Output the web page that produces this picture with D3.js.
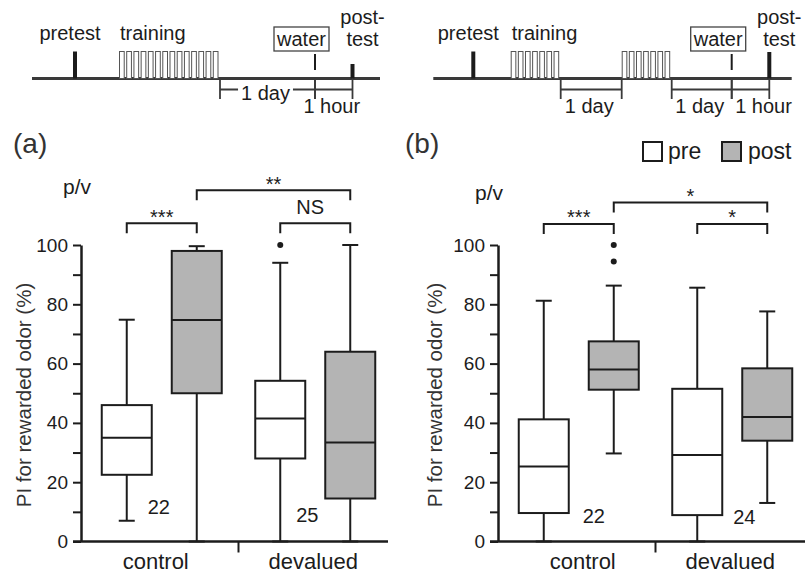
<!DOCTYPE html>
<html>
<head>
<meta charset="utf-8">
<script src="https://cdn.jsdelivr.net/npm/d3@7"></script>
<style>
body { margin: 0; background: #fff; }
svg { display: block; font-family: 'Liberation Sans', Arial, sans-serif; }
</style>
</head>
<body>
<script>
// ---- data ----
let groups = ['control', 'devalued'];
let phases = ['pre', 'post'];
let yTickValues = [0, 10, 20, 30, 40, 50, 60, 70, 80, 90, 100];
let yTickLabels = [0, 20, 40, 60, 80, 100];

// box stats: [min, q1, median, q3, max], order control-pre, control-post, devalued-pre, devalued-post
let statsA = [
    [7, 22.5, 35, 46, 74.8],
    [0, 50, 74.7, 98, 99.6],
    [0, 28, 41.5, 54.2, 94],
    [0, 14.5, 33.4, 64, 100]
];
let outliersA = [[], [], [100], []];
let countsA = [22, 25];

let statsB = [
    [0, 9.6, 25.3, 41.2, 81.2],
    [29.7, 51.2, 58, 67.5, 86.3],
    [0, 8.9, 29.2, 51.5, 85.6],
    [13, 34, 42, 58.4, 77.6]
];
let outliersB = [[], [94.4, 100], [], []];
let countsB = [22, 24];

// significance brackets between boxes (index into stats), level in y units
let sigA = [
    {from: 0, to: 1, level: 107.3, label: '***'},
    {from: 1, to: 3, level: 118.5, label: '**'},
    {from: 2, to: 3, level: 107.3, label: 'NS'}
];
let sigB = [
    {from: 0, to: 1, level: 107.1, label: '***'},
    {from: 1, to: 3, level: 114.3, label: '*'},
    {from: 2, to: 3, level: 107.1, label: '*'}
];

// schematic timelines, positions in units along the line
let timelineA = {
    extent: [0, 348],
    pretest: 43,
    blocks: [{start: 87, end: 188, trials: 14}],
    water: 283,
    posttest: 320.5,
    postTop: 64,
    spans: [{from: 188, to: 283, label: '1 day', inline: true}, {from: 283, to: 320.5, label: '1 hour'}]
};
let timelineB = {
    extent: [0, 358.4],
    pretest: 40,
    blocks: [{start: 77.4, end: 127.4, trials: 7}, {start: 188.4, end: 238.4, trials: 7}],
    water: 298.4,
    posttest: 336,
    postTop: 52,
    spans: [{from: 127.4, to: 188.4, label: '1 day'}, {from: 238.4, to: 298.4, label: '1 day'},
        {from: 298.4, to: 336, label: '1 hour', dx: 15}]
};

// ---- drawing ----
let width = 805, height = 577;
let ink = '#1c1c1c', gray = '#b4b4b4', lineGray = '#3a3a3a';

let svg = d3.select('body').append('svg')
    .attr('width', width)
    .attr('height', height);

let y = d3.scaleLinear().domain([0, 100]).range([541.5, 245]);

function drawTimeline(tl, range) {
    let t = d3.scaleLinear().domain(tl.extent).range(range);
    let g = svg.append('g').attr('class', 'timeline');
    let base = 78.5;

    g.append('line')
        .attr('x1', t(tl.extent[0])).attr('x2', t(tl.extent[1]))
        .attr('y1', base).attr('y2', base)
        .style('stroke', lineGray).style('stroke-width', 3);

    // training trials
    tl.blocks.forEach(b => {
        let step = (t(b.end) - t(b.start)) / b.trials;
        g.selectAll(null).data(d3.range(b.trials)).enter().append('rect')
            .attr('x', i => t(b.start) + i * step + 0.5)
            .attr('y', 51.5)
            .attr('width', step - 2.5)
            .attr('height', base - 51.5)
            .style('fill', '#fff')
            .style('stroke', '#555')
            .style('stroke-width', 1);
    });
    g.append('text').attr('x', t(tl.blocks[0].start) + 1).attr('y', 40)
        .style('font-size', '20px').style('fill', ink).text('training');

    // pretest / posttest
    g.append('line').attr('x1', t(tl.pretest)).attr('x2', t(tl.pretest))
        .attr('y1', 51.5).attr('y2', base)
        .style('stroke', ink).style('stroke-width', 4);
    g.append('text').attr('x', t(tl.pretest) - 5).attr('y', 40)
        .attr('text-anchor', 'middle')
        .style('font-size', '20px').style('fill', ink).text('pretest');

    g.append('line').attr('x1', t(tl.posttest)).attr('x2', t(tl.posttest))
        .attr('y1', tl.postTop).attr('y2', base)
        .style('stroke', ink).style('stroke-width', 4);
    g.append('text').attr('x', t(tl.posttest) + 10).attr('y', 24)
        .attr('text-anchor', 'middle')
        .style('font-size', '20px').style('fill', ink).text('post-');
    g.append('text').attr('x', t(tl.posttest) + 10).attr('y', 46)
        .attr('text-anchor', 'middle')
        .style('font-size', '20px').style('fill', ink).text('test');

    // water
    g.append('line').attr('x1', t(tl.water)).attr('x2', t(tl.water))
        .attr('y1', 54).attr('y2', 70)
        .style('stroke', ink).style('stroke-width', 2);
    g.append('rect').attr('x', t(tl.water) - 41).attr('y', 27)
        .attr('width', 55).attr('height', 24)
        .style('fill', '#fff').style('stroke', '#444').style('stroke-width', 1.3);
    g.append('text').attr('x', t(tl.water) - 13.5).attr('y', 46)
        .attr('text-anchor', 'middle')
        .style('font-size', '20px').style('fill', ink).text('water');

    // spans below the line
    tl.spans.forEach(s => {
        let x1 = t(s.from), x2 = t(s.to), yb = 89.5;
        g.append('line').attr('x1', x1).attr('x2', x2).attr('y1', yb).attr('y2', yb)
            .style('stroke', lineGray).style('stroke-width', 1.8);
        [x1, x2].forEach(x => {
            g.append('line').attr('x1', x).attr('x2', x).attr('y1', base).attr('y2', 99)
                .style('stroke', lineGray).style('stroke-width', 1.8);
        });
        let lbl = g.append('text')
            .attr('x', (x1 + x2) / 2 - 2 + (s.dx || 0))
            .attr('y', s.inline ? 100 : 113)
            .attr('text-anchor', 'middle')
            .style('font-size', '20px').style('fill', ink).text(s.label);
        if (s.inline) {
            let bb = lbl.node().getBBox();
            g.insert('rect', 'text:last-of-type')
                .attr('x', bb.x - 3).attr('y', bb.y).attr('width', bb.width + 6).attr('height', bb.height)
                .style('fill', '#fff');
        }
    });
}

function drawPanel(opts) {
    let g = svg.append('g').attr('transform', 'translate(' + opts.left + ',0)');

    let x = d3.scaleBand().domain(groups).range([4, 311]).padding(0);
    let xp = d3.scalePoint().domain(phases).range([-35, 35]);
    let boxW = 50;

    let boxes = [];
    groups.forEach((gr, gi) => {
        phases.forEach((ph, pi) => {
            let i = gi * phases.length + pi;
            boxes.push({
                group: gr, phase: ph,
                cx: x(gr) + x.bandwidth() / 2 + xp(ph),
                s: opts.stats[i],
                out: opts.outliers[i]
            });
        });
    });

    // y axis
    let yAxis = d3.axisLeft(y).tickValues(yTickValues).tickSize(8).tickPadding(5)
        .tickSizeOuter(0)
        .tickFormat(d => yTickLabels.indexOf(d) >= 0 ? d : '');
    let ag = g.append('g').call(yAxis);
    ag.select('.domain').style('stroke', ink).style('stroke-width', 2.5);
    ag.selectAll('.tick line').style('stroke', ink).style('stroke-width', 2);
    ag.selectAll('.tick text').style('font-size', '19px').style('fill', ink)
        .style('font-family', "'Liberation Sans', Arial, sans-serif");

    // x axis line + divider
    g.append('line').attr('x1', -8).attr('x2', 307)
        .attr('y1', y(0)).attr('y2', y(0))
        .style('stroke', ink).style('stroke-width', 2.5);
    g.append('line').attr('x1', x(groups[1])).attr('x2', x(groups[1]))
        .attr('y1', y(0)).attr('y2', y(0) + 11)
        .style('stroke', ink).style('stroke-width', 2);
    g.selectAll('.xlabel').data(groups).enter().append('text')
        .attr('class', 'xlabel')
        .attr('x', (d, i) => x(d) + x.bandwidth() / 2 + opts.xLabelDx[i])
        .attr('y', y(0) + 27)
        .attr('text-anchor', 'middle')
        .style('font-size', '22px').style('fill', ink)
        .text(d => d);

    // whiskers
    let bg = g.selectAll('.box').data(boxes).enter().append('g').attr('class', 'box');
    bg.append('line')
        .attr('x1', d => d.cx).attr('x2', d => d.cx)
        .attr('y1', d => y(d.s[0])).attr('y2', d => y(d.s[1]))
        .style('stroke', ink).style('stroke-width', 2);
    bg.append('line')
        .attr('x1', d => d.cx).attr('x2', d => d.cx)
        .attr('y1', d => y(d.s[3])).attr('y2', d => y(d.s[4]))
        .style('stroke', ink).style('stroke-width', 2);
    [0, 4].forEach(k => {
        bg.append('line')
            .attr('x1', d => d.cx - 8).attr('x2', d => d.cx + 8)
            .attr('y1', d => y(d.s[k])).attr('y2', d => y(d.s[k]))
            .style('stroke', ink).style('stroke-width', 2);
    });
    bg.append('rect')
        .attr('x', d => d.cx - boxW / 2)
        .attr('y', d => y(d.s[3]))
        .attr('width', boxW)
        .attr('height', d => y(d.s[1]) - y(d.s[3]))
        .style('fill', d => d.phase === 'pre' ? '#fff' : gray)
        .style('stroke', ink).style('stroke-width', 2);
    bg.append('line')
        .attr('x1', d => d.cx - boxW / 2).attr('x2', d => d.cx + boxW / 2)
        .attr('y1', d => y(d.s[2])).attr('y2', d => y(d.s[2]))
        .style('stroke', ink).style('stroke-width', 2);
    bg.selectAll('.outlier').data(d => d.out.map(v => ({cx: d.cx, v: v}))).enter().append('circle')
        .attr('class', 'outlier')
        .attr('cx', d => d.cx).attr('cy', d => y(d.v)).attr('r', 3)
        .style('fill', ink);

    // n labels, right of the pre box
    g.selectAll('.nlabel').data(opts.counts).enter().append('text')
        .attr('class', 'nlabel')
        .attr('x', (d, i) => boxes[i * 2].cx + opts.nDx[i])
        .attr('y', (d, i) => opts.nY[i])
        .attr('text-anchor', 'middle')
        .style('font-size', '20px').style('fill', ink)
        .text(d => d);

    // significance brackets
    let sg = g.selectAll('.sig').data(opts.sig).enter().append('g').attr('class', 'sig');
    sg.append('path')
        .attr('d', d => {
            let x1 = boxes[d.from].cx, x2 = boxes[d.to].cx, yy = y(d.level);
            return 'M' + x1 + ',' + (yy + 10) + 'V' + yy + 'H' + x2 + 'V' + (yy + 10);
        })
        .style('fill', 'none').style('stroke', ink).style('stroke-width', 2);
    sg.append('text')
        .attr('x', d => (boxes[d.from].cx + boxes[d.to].cx) / 2 + (d.label === 'NS' ? -5 : 0))
        .attr('y', d => y(d.level) - (d.label === 'NS' ? 9 : -0.5))
        .attr('text-anchor', 'middle')
        .style('font-size', '20px').style('fill', ink)
        .text(d => d.label);

    // panel letter, y-axis title, p/v
    g.append('text').attr('x', opts.letterX).attr('y', 153)
        .style('font-size', '28px').style('fill', '#333').text(opts.letter);
    g.append('text').attr('x', opts.pvX).attr('y', opts.pvY)
        .style('font-size', '21px').style('fill', ink).text('p/v');
    g.append('text')
        .attr('transform', 'translate(' + opts.titleX + ',' + 395 + ') rotate(-90)')
        .attr('text-anchor', 'middle')
        .style('font-size', '20.5px').style('fill', '#333')
        .text('PI for rewarded odor (%)');
}

drawTimeline(timelineA, [32, 380]);
drawTimeline(timelineB, [433.3, 791.7]);

drawPanel({
    left: 81, letter: '(a)', letterX: -68, pvX: -18, pvY: 194, titleX: -50,
    stats: statsA, outliers: outliersA, counts: countsA, sig: sigA,
    nDx: [32, 27], nY: [514, 522], xLabelDx: [-6, -2]
});
drawPanel({
    left: 498, letter: '(b)', letterX: -93, pvX: -23, pvY: 200, titleX: -56,
    stats: statsB, outliers: outliersB, counts: countsB, sig: sigB,
    nDx: [50, 47], nY: [523, 524], xLabelDx: [4, -2]
});

// legend
let legend = svg.append('g').attr('class', 'legend');
legend.selectAll('rect').data(phases).enter().append('rect')
    .attr('x', (d, i) => 643 + i * 79).attr('y', 142)
    .attr('width', 19).attr('height', 19)
    .style('fill', d => d === 'pre' ? '#fff' : gray)
    .style('stroke', ink).style('stroke-width', 2);
legend.selectAll('text').data(phases).enter().append('text')
    .attr('x', (d, i) => 668 + i * 80).attr('y', 158.5)
    .style('font-size', '23px').style('fill', ink)
    .text(d => d);
</script>
</body>
</html>
